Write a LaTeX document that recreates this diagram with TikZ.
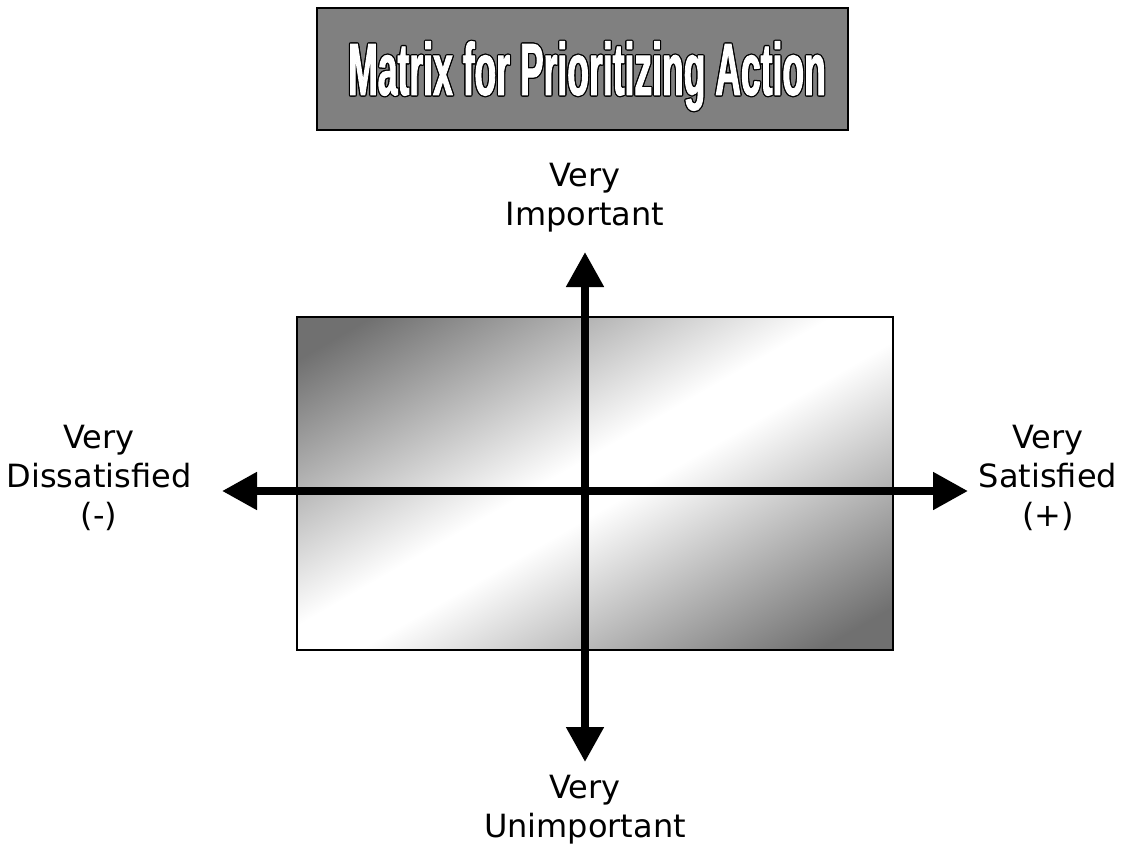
\documentclass[tikz,border=0pt]{standalone}
\usepackage{fontspec}
\setmainfont{DejaVu Sans}
\newfontfamily\titlefont[FakeStretch=0.48,FakeBold=1.2]{Liberation Sans}
\usepackage{tikz}
\usetikzlibrary{arrows.meta,positioning,calc}

\definecolor{boxgray}{HTML}{808080}
\definecolor{shadegray}{HTML}{707070}

% grey - white - grey band, turned by shading angle
\pgfdeclareverticalshading{diagband}{100bp}{%
  color(0bp)=(shadegray); color(20bp)=(shadegray);
  color(47bp)=(white); color(53bp)=(white);
  color(80bp)=(shadegray); color(100bp)=(shadegray)}

\begin{document}
\begin{tikzpicture}[
  x=1pt, y=-1pt,
  >={Triangle[length=35pt,width=36pt]},
  every node/.style={text=black, font=\fontsize{32}{39}\selectfont},
  axis/.style={<->, line width=8pt, draw=black},
  label/.style={align=center, inner sep=0pt},
  titlebox/.style={draw=black, line width=1.6pt, fill=boxgray,
    minimum width=531pt, minimum height=122pt, inner sep=0pt},
  titletext/.style={font=\titlefont\bfseries\fontsize{74}{80}\selectfont,
    inner sep=0pt, anchor=base}
]
\useasboundingbox (0,0) rectangle (1129,848);

% ---- heading ----
\node[titlebox] (title) at (582.5,69) {};
\foreach \a in {0,45,...,315}
  \node[titletext, text=black] at ([shift={(\a:1.3)}]587,95)
    {Matrix for Prioritizing Action};
\node[titletext, text=white] (heading) at (587,95)
  {Matrix for Prioritizing Action};

% ---- shaded field ----
\coordinate (nw) at (297,317);
\coordinate (se) at (893,650);
\shade[shading=diagband, shading angle=30] (nw) rectangle (se);
\draw[line width=1.6pt] (nw) rectangle (se);

% ---- axis ends ----
\coordinate (west) at (222,491);
\coordinate (east) at (968,491);
\coordinate (north) at (585,252);
\coordinate (south) at (585,762);

\draw[axis] (west) -- (east);
\draw[axis] (north) -- (south);

% ---- axis labels ----
\node[label] (imp) at (585,198) {Very\\Important};
\node[label] (unimp) at (585,810) {Very\\Unimportant};
\node[label] (dissat) at (99,478) {Very\\Dissatisfied\\(-)};
\node[label] (sat) at (1048,478) {Very\\Satisfied\\(+)};

\end{tikzpicture}
\end{document}
